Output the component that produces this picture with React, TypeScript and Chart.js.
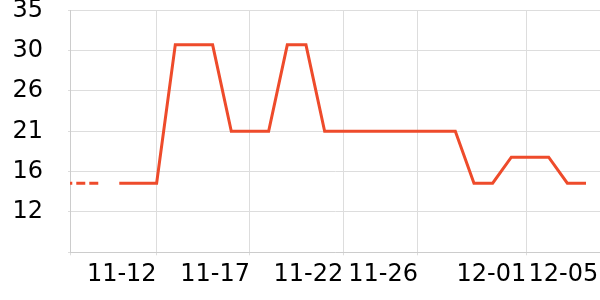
import React, { useEffect, useRef } from 'react';
import { Chart, registerables } from 'chart.js';

Chart.register(...registerables);

// Daily categories (index 0 = 11-10)
const dates = [
  '11-10', '11-11', '11-12', '11-13', '11-14', '11-15', '11-16', '11-17', '11-18', '11-19',
  '11-20', '11-21', '11-22', '11-23', '11-24', '11-25', '11-26', '11-27', '11-28', '11-29',
  '11-30', '12-01', '12-02', '12-03', '12-04', '12-05',
];
const values = [15, 15, 15, 31, 31, 31, 21, 21, 21, 31, 31, 21, 21, 21, 21, 21, 21, 21, 21, 15, 15, 18, 18, 18, 15, 15];

// Earlier (dashed) segment, day offsets relative to the first category
const earlierDays = [-3, -1];
const earlierValues = [15, 15];

// Axis ranges and ticks
const xMin = -2.64;
const xMax = 25.75;
const xTickValues = [xMin, 2, 7, 12, 16, 21.8, 25.66];
const xTickLabels = ['', '11-12', '11-17', '11-22', '11-26', '12-01', '12-05'];
const yMin = 7;
const yMax = 35;
const yTickCount = 7;

const LINE = '#ee4b2b';
const GRID = '#dddddd';
const AXIS = '#cccccc';
const FONT = { family: 'DejaVu Sans', size: 24 };

export default function App() {
  const ref = useRef<HTMLCanvasElement>(null);

  useEffect(() => {
    if (!ref.current) return;
    const chart = new Chart(ref.current, {
      type: 'line',
      data: {
        labels: dates,
        datasets: [
          {
            label: 'earlier',
            data: earlierDays.map((d, i) => ({ x: d, y: earlierValues[i] })),
            borderColor: LINE,
            borderWidth: 3,
            borderDash: [9, 4],
            pointRadius: 0,
            tension: 0,
          },
          {
            label: 'value',
            data: values.map((v, i) => ({ x: i, y: v })),
            borderColor: LINE,
            borderWidth: 3,
            pointRadius: 0,
            tension: 0,
          },
        ],
      },
      options: {
        responsive: false,
        animation: false,
        layout: { padding: { top: 10.3, left: 0, right: 0, bottom: 0 } },
        plugins: { legend: { display: false }, tooltip: { enabled: false } },
        scales: {
          x: {
            type: 'linear',
            min: xMin,
            max: xMax,
            afterBuildTicks: (s: any) => {
              s.ticks = xTickValues.map((v) => ({ value: v }));
            },
            afterFit: (s: any) => {
              s.height = 47.7;
              s.paddingLeft = 0;
              s.paddingRight = 0;
            },
            grid: {
              color: (ctx: any) => (ctx.index === xTickValues.length - 1 ? 'rgba(0,0,0,0)' : GRID),
              tickLength: 3,
            },
            border: { color: AXIS },
            ticks: {
              autoSkip: false,
              maxRotation: 0,
              minRotation: 0,
              align: 'end',
              padding: 5,
              color: '#000',
              font: FONT,
              callback: (_v: any, i: number) => xTickLabels[i],
            },
          },
          y: {
            type: 'linear',
            min: yMin,
            max: yMax,
            afterFit: (s: any) => {
              s.width = 70;
              s.paddingTop = 0;
              s.paddingBottom = 0;
            },
            grid: { color: GRID, tickLength: 2 },
            border: { color: AXIS },
            ticks: {
              count: yTickCount,
              padding: 25,
              color: '#000',
              font: FONT,
              callback: (v: any) => (Math.abs(v - yMin) < 1e-6 ? '' : String(Math.round(v))),
            },
          },
        },
      },
    });
    return () => chart.destroy();
  }, []);

  return (
    <div style={{ position: 'absolute', left: 0, top: 0, width: 600, height: 300 }}>
      <canvas ref={ref} width={600} height={300} />
    </div>
  );
}
